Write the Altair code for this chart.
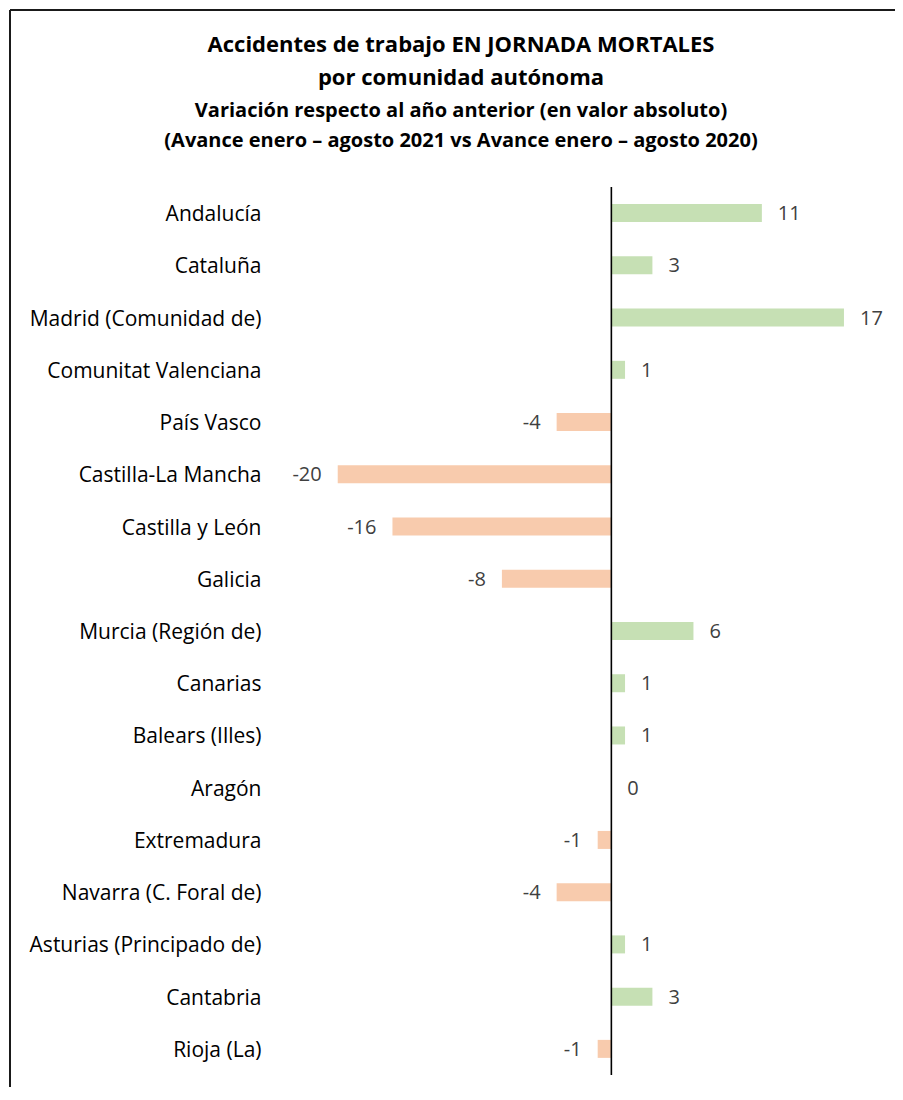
import altair as alt
import pandas as pd

regions = [
    "Andalucía", "Cataluña", "Madrid (Comunidad de)", "Comunitat Valenciana",
    "País Vasco", "Castilla-La Mancha", "Castilla y León", "Galicia",
    "Murcia (Región de)", "Canarias", "Balears (Illes)", "Aragón",
    "Extremadura", "Navarra (C. Foral de)", "Asturias (Principado de)",
    "Cantabria", "Rioja (La)",
]
values = [11, 3, 17, 1, -4, -20, -16, -8, 6, 1, 1, 0, -1, -4, 1, 3, -1]

title_lines = ["Accidentes de trabajo EN JORNADA MORTALES", "por comunidad autónoma"]
subtitle_lines = [
    "Variación respecto al año anterior (en valor absoluto)",
    "(Avance enero – agosto 2021 vs Avance enero – agosto 2020)",
]

GREEN = "#C6E0B4"
ORANGE = "#F8CBAD"
FONT = "Open Sans"

df = pd.DataFrame({"region": regions, "value": values,
                   "label": [str(v) for v in values]})

W, H = 602, 888
x_scale = alt.Scale(domain=[-24, 20], nice=False, zero=False)
y_enc = alt.Y(
    "region:N", sort=regions, title=None,
    axis=alt.Axis(domain=False, ticks=False, labelPadding=22, labelFontSize=21,
                  labelOffset=2, labelColor="#000000", labelFont=FONT, labelLimit=400),
    scale=alt.Scale(paddingInner=0, paddingOuter=0),
)

base = alt.Chart(df)

bars = base.mark_bar(size=18).encode(
    x=alt.X("value:Q", scale=x_scale, axis=None),
    y=y_enc,
    color=alt.condition(alt.datum.value >= 0, alt.value(GREEN), alt.value(ORANGE)),
)

pos_text = base.transform_filter(alt.datum.value >= 0).mark_text(
    align="left", baseline="middle", dx=16, dy=1, fontSize=20, color="#404040", font=FONT
).encode(x=alt.X("value:Q", scale=x_scale), y=y_enc, text="label:N")

neg_text = base.transform_filter(alt.datum.value < 0).mark_text(
    align="right", baseline="middle", dx=-16, dy=1, fontSize=20, color="#404040", font=FONT
).encode(x=alt.X("value:Q", scale=x_scale), y=y_enc, text="label:N")

zero_line = alt.Chart(pd.DataFrame({"z": [0]})).mark_rule(color="#000000", strokeWidth=1.6).encode(
    x=alt.X("z:Q", scale=x_scale)
)

frame_df = pd.DataFrame({"a": [0]})
top_border = alt.Chart(frame_df).mark_rule(color="#1a1a1a", strokeWidth=2).encode(
    x=alt.value(-273), x2=alt.value(W + 20), y=alt.value(-177)
)
left_border = alt.Chart(frame_df).mark_rule(color="#1a1a1a", strokeWidth=2).encode(
    x=alt.value(-273), y=alt.value(-177), y2=alt.value(H + 40)
)

chart = alt.layer(top_border, left_border, bars, zero_line, pos_text, neg_text).properties(
    width=W,
    height=H,
    autosize=alt.AutoSizeParams(type="none"),
    padding={"left": 275, "top": 179, "right": 10, "bottom": 12},
    title=alt.TitleParams(
        text=title_lines,
        subtitle=subtitle_lines,
        anchor="middle",
        dx=-123,
        offset=-143,
        font=FONT,
        fontSize=22,
        fontWeight="bold",
        lineHeight=33,
        color="#000000",
        subtitleFont=FONT,
        subtitleFontSize=20,
        subtitleFontWeight="bold",
        subtitleLineHeight=30,
        subtitleColor="#000000",
        subtitlePadding=11,
    ),
).configure_view(stroke=None)

chart.save("out.html", embed_options={"renderer": "svg", "actions": False})
